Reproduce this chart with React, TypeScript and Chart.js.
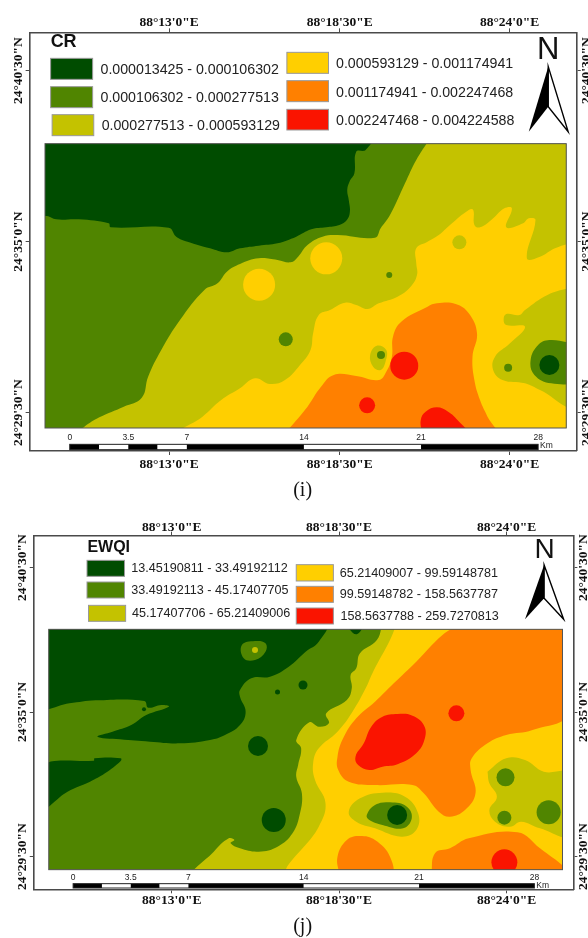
import React, { useEffect, useRef } from "react";
import { Chart, registerables } from "chart.js";

Chart.register(...registerables);

const DARK = "#004c00";
const GREEN = "#508500";
const OLIVE = "#c4c200";
const YELLOW = "#ffcf00";
const ORANGE = "#ff8000";
const RED = "#fa1400";
const CLASS_COLORS = [DARK, GREEN, OLIVE, YELLOW, ORANGE, RED];

const lonTickLabels = ["88°13'0\"E", "88°18'30\"E", "88°24'0\"E"];
const latTickLabels = ["24°40'30\"N", "24°35'0\"N", "24°29'30\"N"];
const scaleKm = [0, 3.5, 7, 14, 21, 28];
const scaleSegments = [0, 1.75, 3.5, 5.25, 7, 14, 21, 28];

const crClasses = [
  "0.000013425 - 0.000106302",
  "0.000106302 - 0.000277513",
  "0.000277513 - 0.000593129",
  "0.000593129 - 0.001174941",
  "0.001174941 - 0.002247468",
  "0.002247468 - 0.004224588",
];
const ewqiClasses = [
  "13.45190811 - 33.49192112",
  "33.49192113 - 45.17407705",
  "45.17407706 - 65.21409006",
  "65.21409007 - 99.59148781",
  "99.59148782 - 158.5637787",
  "158.5637788 - 259.7270813",
];

type Pt = [number, number];
type Layer = { color: string; pts?: Pt[]; spots?: [number, number, number][]; sharp?: boolean; loop?: boolean };

// ---- CR contours, in map grid units
const crBase: Pt[] = [[100, 410], [1530, 410], [1530, 1300], [100, 1300]];
const crDark: Pt[] = [[100, 410], [990, 410], [975, 450], [950, 455], [945, 520], [932, 545], [926, 570], [930, 600], [933, 635], [925, 660], [905, 675], [870, 682], [830, 688], [790, 710], [740, 730], [690, 737], [640, 745], [605, 757], [560, 745], [500, 725], [470, 710], [450, 683], [295, 682], [290, 670], [210, 658], [150, 658], [125, 648], [100, 648]];
const crOlive: Pt[] = [[1150, 410], [1530, 410], [1530, 1300], [205, 1300], [225, 1280], [265, 1252], [330, 1220], [378, 1193], [395, 1130], [430, 1050], [480, 960], [545, 870], [580, 850], [605, 815], [640, 792], [690, 775], [740, 780], [775, 787], [795, 770], [820, 735], [860, 710], [900, 705], [1000, 713], [1015, 685], [1040, 645], [1080, 550], [1110, 480]];
const crYellow: Pt[] = [[1530, 725], [1480, 745], [1440, 770], [1405, 775], [1428, 660], [1410, 655], [1395, 670], [1350, 682], [1365, 625], [1345, 625], [1310, 660], [1280, 682], [1265, 675], [1262, 630], [1250, 630], [1200, 675], [1170, 705], [1140, 725], [1110, 745], [1110, 790], [1112, 825], [1095, 860], [1060, 890], [1010, 910], [980, 927], [950, 915], [920, 908], [880, 930], [850, 945], [835, 1000], [828, 1050], [800, 1095], [760, 1140], [720, 1152], [680, 1135], [640, 1165], [590, 1200], [540, 1250], [480, 1300], [1530, 1300]];
const crOliveEast: Pt[] = [[1530, 860], [1460, 885], [1400, 930], [1385, 945], [1350, 942], [1343, 960], [1350, 975], [1400, 980], [1360, 1030], [1320, 1070], [1315, 1110], [1340, 1140], [1400, 1150], [1440, 1170], [1530, 1215]];
const crOrange: Pt[] = [[760, 1300], [820, 1220], [855, 1162], [890, 1125], [950, 1128], [1010, 1140], [1030, 1115], [1045, 1070], [1048, 1010], [1070, 965], [1140, 920], [1165, 910], [1215, 912], [1250, 940], [1272, 1000], [1260, 1070], [1265, 1140], [1280, 1200], [1300, 1250], [1320, 1300]];
const crOliveIsland: Pt[] = [[1005, 1037], [1030, 1050], [1028, 1085], [1015, 1110], [995, 1100], [987, 1065]];
const crRedSouth: Pt[] = [[1125, 1300], [1122, 1260], [1135, 1235], [1165, 1222], [1195, 1235], [1220, 1260], [1245, 1300]];
const crGreenEast: Pt[] = [[1530, 1030], [1465, 1020], [1435, 1035], [1415, 1080], [1425, 1125], [1470, 1150], [1530, 1140]];
const crYellowSpots: [number, number, number][] = [[691, 854, 16], [870, 775, 16]];
const crOliveSpots: [number, number, number][] = [[1225, 727, 7]];
const crGreenSpots: [number, number, number][] = [[1038, 825, 3], [762, 1018, 7], [1016, 1065, 4], [1355, 1103, 4]];
const crDarkSpots: [number, number, number][] = [[1465, 1095, 10]];
const crRedSpots: [number, number, number][] = [[1078, 1097, 14], [979, 1216, 8]];

// ---- EWQI contours, in map grid units
const ewBase: Pt[] = [[110, 1870], [1520, 1870], [1520, 2625], [110, 2625]];
const ewDark: Pt[] = [[110, 1870], [868, 1870], [850, 1925], [815, 1955], [770, 2000], [720, 2030], [670, 2035], [640, 2070], [640, 2090], [655, 2135], [640, 2175], [600, 2205], [560, 2220], [480, 2230], [400, 2225], [320, 2218], [260, 2210], [300, 2195], [350, 2175], [390, 2145], [450, 2120], [430, 2115], [395, 2123], [385, 2103], [255, 2101], [185, 2110], [110, 2118]];
const ewGreenIsland: Pt[] = [[645, 1935], [680, 1923], [708, 1930], [708, 1955], [680, 1980], [650, 1975]];
const ewDarkNotch: Pt[] = [[925, 1880], [965, 1880], [950, 1903]];
const ewDarkSouth: Pt[] = [[110, 2295], [145, 2283], [250, 2282], [252, 2275], [322, 2275], [322, 2283], [280, 2320], [240, 2345], [180, 2375], [110, 2425]];
const ewOlive: Pt[] = [[1020, 1870], [1005, 1920], [960, 1960], [950, 2005], [935, 2025], [938, 2065], [925, 2100], [870, 2140], [877, 2170], [850, 2180], [825, 2167], [790, 2220], [803, 2245], [795, 2295], [790, 2330], [805, 2380], [800, 2440], [780, 2500], [740, 2540], [690, 2555], [640, 2545], [615, 2530], [625, 2520], [610, 2515], [570, 2555], [520, 2625], [1520, 2625], [1520, 1870]];
const ewYellow: Pt[] = [[1058, 1870], [1040, 1920], [995, 2015], [975, 2065], [940, 2135], [900, 2195], [850, 2245], [835, 2290], [840, 2340], [868, 2410], [850, 2480], [775, 2625], [1520, 2625], [1520, 1870]];
const ewOrange: Pt[] = [[1230, 1870], [1180, 1905], [1110, 1985], [1050, 2050], [1000, 2105], [950, 2155], [915, 2215], [900, 2270], [902, 2310], [930, 2345], [1000, 2355], [1100, 2355], [1130, 2380], [1170, 2435], [1200, 2450], [1240, 2430], [1268, 2380], [1255, 2310], [1258, 2275], [1300, 2230], [1350, 2205], [1420, 2190], [1520, 2135], [1520, 1870]];
const ewRedCore: Pt[] = [[1060, 2142], [1100, 2147], [1130, 2175], [1133, 2215], [1110, 2260], [1060, 2293], [1020, 2300], [985, 2310], [955, 2295], [948, 2270], [970, 2230], [990, 2180], [1020, 2150]];
const ewOliveEast: Pt[] = [[1300, 2315], [1350, 2275], [1400, 2280], [1450, 2315], [1520, 2322], [1520, 2505], [1440, 2485], [1390, 2465], [1360, 2480], [1320, 2465], [1305, 2430], [1325, 2390], [1305, 2350]];
const ewOliveIsland: Pt[] = [[960, 2395], [1020, 2378], [1080, 2390], [1115, 2440], [1110, 2490], [1070, 2510], [1000, 2485], [950, 2465], [930, 2435]];
const ewGreenRing: Pt[] = [[1000, 2415], [1040, 2407], [1085, 2420], [1098, 2455], [1075, 2485], [1020, 2475], [985, 2460], [978, 2445]];
const ewOrangeSW: Pt[] = [[905, 2625], [900, 2570], [925, 2520], [960, 2508], [1000, 2520], [1040, 2570], [1042, 2625]];
const ewOrangeSE: Pt[] = [[1150, 2625], [1160, 2560], [1200, 2545], [1250, 2515], [1380, 2497], [1440, 2545], [1520, 2615], [1520, 2625]];
const ewOliveSpots: [number, number, number][] = [[680, 1950, 3]];
const ewDarkSpots: [number, number, number][] = [[808, 2055, 4.5], [740, 2076, 2.5], [384, 2128, 2], [688, 2238, 10], [730, 2460, 12], [1059, 2445, 10]];
const ewGreenSpots: [number, number, number][] = [[1348, 2332, 9], [1345, 2453, 7], [1463, 2437, 12]];
const ewRedSpots: [number, number, number][] = [[1217, 2140, 8], [1345, 2587, 13]];

const crLayers: Layer[] = [
  { color: GREEN, pts: crBase, sharp: true }, { color: DARK, pts: crDark }, { color: OLIVE, pts: crOlive },
  { color: YELLOW, pts: crYellow }, { color: OLIVE, pts: crOliveEast }, { color: YELLOW, spots: crYellowSpots },
  { color: OLIVE, spots: crOliveSpots }, { color: ORANGE, pts: crOrange }, { color: OLIVE, pts: crOliveIsland, loop: true },
  { color: RED, pts: crRedSouth }, { color: GREEN, pts: crGreenEast }, { color: DARK, spots: crDarkSpots },
  { color: GREEN, spots: crGreenSpots }, { color: RED, spots: crRedSpots },
];
const ewLayers: Layer[] = [
  { color: GREEN, pts: ewBase, sharp: true }, { color: DARK, pts: ewDark }, { color: GREEN, pts: ewGreenIsland, loop: true },
  { color: DARK, pts: ewDarkSouth }, { color: OLIVE, pts: ewOlive }, { color: YELLOW, pts: ewYellow },
  { color: ORANGE, pts: ewOrange }, { color: RED, pts: ewRedCore, loop: true }, { color: OLIVE, pts: ewOliveEast },
  { color: OLIVE, pts: ewOliveIsland, loop: true }, { color: GREEN, pts: ewGreenRing, loop: true }, { color: ORANGE, pts: ewOrangeSW },
  { color: ORANGE, pts: ewOrangeSE }, { color: DARK, pts: ewDarkNotch }, { color: OLIVE, spots: ewOliveSpots },
  { color: DARK, spots: ewDarkSpots }, { color: GREEN, spots: ewGreenSpots }, { color: RED, spots: ewRedSpots },
];

const panels = [
  {
    title: "CR", titleFont: "bold 18px 'Liberation Sans'", titlePos: [135, 127], caption: "(i)", captionY: 1472,
    classes: crClasses, textSize: 14.2, layers: crLayers,
    frame: { l: 79, r: 1538, t: 97, b: 1353 }, map: { l: 120, r: 1510, t: 431, b: 1284 },
    lonTicks: [451, 906, 1359], latTicks: [212, 725, 1238],
    swatches: [[135, 175, 247, 238], [135, 260, 247, 323], [139, 344, 250, 407], [765, 157, 876, 220], [765, 242, 876, 305], [765, 328, 876, 390]],
    texts: [[268, 210], [268, 295], [271, 379], [896, 192], [896, 279], [896, 362]],
    bar: { x0: 186, x28: 1435, top: 1333, bottom: 1349, labelY: 1313, kmX: 1440, kmY: 1338 },
    north: { letter: [1462, 150], size: 31, apex: [1462, 200], left: [1410, 395], right: [1515, 395], notch: [1462, 320] },
    padTop: -2, padBottom: 1.3, leftX: 18.5, rightX: 586,
  },
  {
    title: "EWQI", titleFont: "bold 16px 'Liberation Sans'", titlePos: [233, 1643], caption: "(j)", captionY: 2780,
    classes: ewqiClasses, textSize: 12.6, layers: ewLayers,
    frame: { l: 90, r: 1529, t: 1607, b: 2668 }, map: { l: 130, r: 1500, t: 1888, b: 2609 },
    lonTicks: [458, 904, 1351], latTicks: [1703, 2136, 2570],
    swatches: [[232, 1681, 332, 1729], [232, 1746, 332, 1794], [236, 1816, 335, 1864], [790, 1694, 889, 1743], [790, 1759, 889, 1807], [790, 1824, 889, 1872]],
    texts: [[350, 1707], [350, 1772], [352, 1841], [906, 1720], [906, 1785], [908, 1849]],
    bar: { x0: 195, x28: 1425, top: 2651, bottom: 2664, labelY: 2634, kmX: 1430, kmY: 2656 },
    north: { letter: [1452, 1652], size: 28, apex: [1451, 1695], left: [1400, 1858], right: [1503, 1858], notch: [1451, 1795] },
    padTop: -3.7, padBottom: -1, leftX: 22.5, rightX: 583,
  },
];

function decorPlugin(p: any) {
  return {
    id: "decor",
    beforeDatasetsDraw(chart: any) {
      const { x, y } = chart.scales;
      const ctx = chart.ctx;
      ctx.save();
      ctx.beginPath();
      ctx.rect(x.getPixelForValue(p.map.l), y.getPixelForValue(p.map.t), x.getPixelForValue(p.map.r) - x.getPixelForValue(p.map.l), y.getPixelForValue(p.map.b) - y.getPixelForValue(p.map.t));
      ctx.clip();
    },
    afterDatasetsDraw(chart: any) {
      const { x, y } = chart.scales;
      const ctx = chart.ctx;
      ctx.restore();
      const X = (v: number) => x.getPixelForValue(v);
      const Y = (v: number) => y.getPixelForValue(v);
      ctx.save();
      ctx.strokeStyle = "#555";
      ctx.lineWidth = 1;
      ctx.strokeRect(X(p.map.l), Y(p.map.t), X(p.map.r) - X(p.map.l), Y(p.map.b) - Y(p.map.t));
      // legend
      ctx.textBaseline = "middle";
      ctx.textAlign = "left";
      ctx.fillStyle = "#111";
      ctx.font = p.titleFont;
      ctx.fillText(p.title, X(p.titlePos[0]), Y(p.titlePos[1]));
      p.swatches.forEach((s: number[], i: number) => {
        ctx.fillStyle = CLASS_COLORS[i];
        ctx.fillRect(X(s[0]), Y(s[1]), X(s[2]) - X(s[0]), Y(s[3]) - Y(s[1]));
        ctx.strokeStyle = "#999";
        ctx.lineWidth = 1;
        ctx.strokeRect(X(s[0]), Y(s[1]), X(s[2]) - X(s[0]), Y(s[3]) - Y(s[1]));
        ctx.fillStyle = "#222";
        ctx.font = `${p.textSize}px 'Liberation Sans'`;
        ctx.fillText(p.classes[i], X(p.texts[i][0]), Y(p.texts[i][1]));
      });
      // north arrow
      const n = p.north;
      ctx.font = `${n.size}px 'Liberation Sans'`;
      ctx.textAlign = "center";
      ctx.fillStyle = "#111";
      ctx.fillText("N", X(n.letter[0]), Y(n.letter[1]));
      ctx.beginPath();
      ctx.moveTo(X(n.apex[0]), Y(n.apex[1]));
      ctx.lineTo(X(n.left[0]), Y(n.left[1]));
      ctx.lineTo(X(n.notch[0]), Y(n.notch[1]));
      ctx.closePath();
      ctx.fillStyle = "#000";
      ctx.fill();
      ctx.beginPath();
      ctx.moveTo(X(n.apex[0]), Y(n.apex[1]));
      ctx.lineTo(X(n.right[0]), Y(n.right[1]));
      ctx.lineTo(X(n.notch[0]), Y(n.notch[1]));
      ctx.closePath();
      ctx.fillStyle = "#fff";
      ctx.fill();
      ctx.strokeStyle = "#000";
      ctx.lineWidth = 1.4;
      ctx.stroke();
      // scale bar
      const b = p.bar;
      const km = (v: number) => X(b.x0 + (v * (b.x28 - b.x0)) / 28);
      scaleSegments.slice(0, -1).forEach((v, i) => {
        ctx.fillStyle = i % 2 === 0 ? "#000" : "#fff";
        ctx.fillRect(km(v), Y(b.top), km(scaleSegments[i + 1]) - km(v), Y(b.bottom) - Y(b.top));
      });
      ctx.strokeStyle = "#222";
      ctx.lineWidth = 1;
      ctx.strokeRect(km(0), Y(b.top), km(28) - km(0), Y(b.bottom) - Y(b.top));
      ctx.font = "8.5px 'Liberation Sans'";
      ctx.fillStyle = "#222";
      ctx.textAlign = "center";
      scaleKm.forEach((v) => ctx.fillText(String(v), km(v), Y(b.labelY)));
      ctx.textAlign = "left";
      ctx.fillText("Km", X(b.kmX), Y(b.kmY));
      // caption
      ctx.font = "20px 'Liberation Serif'";
      ctx.textAlign = "center";
      ctx.fillStyle = "#111";
      ctx.fillText(p.caption, 302.6, p.captionY / 3);
      ctx.restore();
    },
  };
}

function ringPoints(l: Layer): Pt[] {
  const pts = l.pts as Pt[];
  // a closed ring; islands repeat their neighbours so the curve has no kink where it closes
  return l.loop ? [pts[pts.length - 1], ...pts, pts[0], pts[1]] : [...pts, pts[0]];
}

function buildChart(canvas: HTMLCanvasElement, p: any) {
  const datasets = p.layers.map((l: Layer, i: number) =>
    l.pts
      ? {
          type: "scatter",
          data: ringPoints(l).map(([x, y]) => ({ x, y })),
          showLine: true,
          fill: "shape",
          tension: l.sharp ? 0 : 0.42,
          capBezierPoints: false,
          backgroundColor: l.color,
          borderColor: l.color,
          borderWidth: 0,
          pointRadius: 0,
          order: -i,
        }
      : {
          type: "bubble",
          data: (l.spots || []).map(([x, y, r]) => ({ x, y, r })),
          backgroundColor: l.color,
          borderWidth: 0,
          order: -i,
        }
  );
  const serif = { family: "'Liberation Serif'", size: 13.5, weight: "bold" as const };
  const lonLabel = (v: any) => lonTickLabels[p.lonTicks.indexOf(Number(v))] ?? "";
  const latLabel = (v: any) => latTickLabels[p.latTicks.indexOf(Number(v))] ?? "";
  const border = { display: true, color: "#4a4a4a", width: 1.6 };
  const grid = { drawOnChartArea: false, drawTicks: true, tickLength: 4, color: "#4a4a4a", lineWidth: 1 };
  const W = 588;
  const H = 938;
  const fl = p.frame.l * 0.375, fr = p.frame.r * 0.375, ft = p.frame.t / 3, fb = p.frame.b / 3;
  const noPad = (a: any) => { a.paddingLeft = 0; a.paddingRight = 0; a.paddingTop = 0; a.paddingBottom = 0; };
  const xAxis = (pos: string, size: number, padding: number) => ({
    type: "linear", position: pos, axis: "x", min: p.frame.l, max: p.frame.r, border, grid,
    afterBuildTicks: (a: any) => { a.ticks = p.lonTicks.map((value: number) => ({ value })); },
    afterFit: (a: any) => { a.height = size; noPad(a); },
    ticks: { autoSkip: false, maxRotation: 0, minRotation: 0, padding, font: serif, color: "#111", callback: lonLabel },
  });
  const yAxis = (pos: string, size: number, padding: number) => ({
    type: "linear", position: pos, axis: "y", reverse: true, min: p.frame.t, max: p.frame.b, border, grid,
    afterBuildTicks: (a: any) => { a.ticks = p.latTicks.map((value: number) => ({ value })); },
    afterFit: (a: any) => { a.width = size; noPad(a); },
    ticks: { autoSkip: false, maxRotation: 90, minRotation: 90, crossAlign: "center", padding, font: serif, color: "#111", callback: latLabel },
  });
  return new Chart(canvas, {
    type: "scatter",
    data: { datasets },
    options: {
      animation: false,
      responsive: false,
      layout: { padding: 0, autoPadding: false },
      plugins: { legend: { display: false }, tooltip: { enabled: false } },
      scales: {
        x: xAxis("bottom", H - fb, p.padBottom),
        x2: xAxis("top", ft, p.padTop),
        y: yAxis("left", fl, fl - 4 - 33 - p.leftX),
        y2: yAxis("right", W - fr, p.rightX - fr - 4 - 33),
      },
    },
    plugins: [decorPlugin(p)],
  } as any);
}

function Panel({ p }: { p: any }) {
  const ref = useRef<HTMLCanvasElement>(null);
  useEffect(() => {
    const c = buildChart(ref.current as HTMLCanvasElement, p);
    return () => c.destroy();
  }, [p]);
  return <canvas ref={ref} width={588} height={938} style={{ position: "absolute", left: 0, top: 0, width: 588, height: 938, filter: "blur(0.35px)" }} />;
}

export default function App() {
  useEffect(() => {
    document.body.style.margin = "0";
    document.body.style.background = "#fff";
  }, []);
  return (
    <div style={{ position: "absolute", left: 0, top: 0, width: 588, height: 938, overflow: "hidden" }}>
      {panels.map((p) => <Panel key={p.title} p={p} />)}
    </div>
  );
}
